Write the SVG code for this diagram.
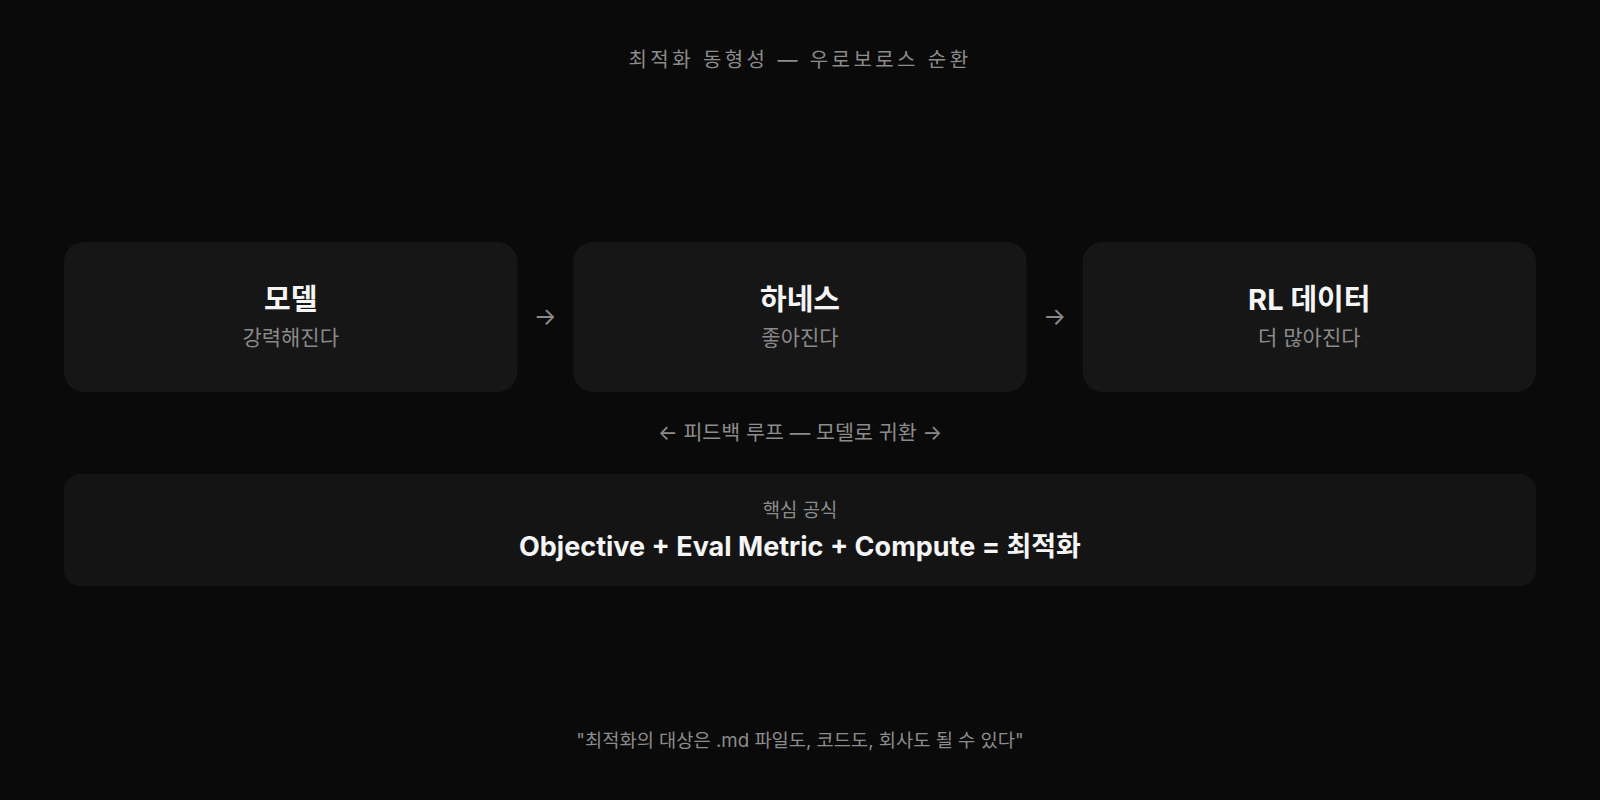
<svg xmlns="http://www.w3.org/2000/svg" width="1600" height="800" viewBox="0 0 1600 800">
  <style>
    text { font-family: "Inter", "Noto Sans CJK KR", sans-serif; }
    .card { fill: #161616; }
    .title { font-size: 29px; font-weight: 700; fill: #f5f5f5; text-anchor: middle; }
    .sub { font-size: 21px; font-weight: 400; fill: #8a8a8a; text-anchor: middle; }
    .arrow { font-size: 24px; fill: #8a8a8a; text-anchor: middle; }
    .gray { fill: #8c8c8c; text-anchor: middle; }
  </style>
  <rect width="1600" height="800" fill="#0a0a0a"/>

  <text x="800" y="67" class="gray" font-size="20" letter-spacing="3.4" fill="#9a9a9a">최적화 동형성 — 우로보로스 순환</text>

  <g id="node-model">
    <rect class="card" x="64" y="242" width="453.3" height="150" rx="20"/>
    <text class="title" x="290.7" y="310">모델</text>
    <text class="sub" x="290.7" y="345">강력해진다</text>
  </g>
  <g id="node-harness">
    <rect class="card" x="573.3" y="242" width="453.3" height="150" rx="20"/>
    <text class="title" x="800" y="310">하네스</text>
    <text class="sub" x="800" y="345">좋아진다</text>
  </g>
  <g id="node-rl-data">
    <rect class="card" x="1082.7" y="242" width="453.3" height="150" rx="20"/>
    <text class="title" x="1309.3" y="310">RL 데이터</text>
    <text class="sub" x="1309.3" y="345">더 많아진다</text>
  </g>

  <g id="connectors">
    <text class="arrow" x="545.3" y="325">→</text>
    <text class="arrow" x="1054.7" y="325">→</text>
  </g>

  <text x="800" y="440" class="gray" font-size="20.6">← 피드백 루프 — 모델로 귀환 →</text>

  <g id="node-formula">
    <rect x="64" y="474" width="1472" height="112" rx="16" fill="#141414"/>
    <text x="800" y="517" class="gray" font-size="18.8">핵심 공식</text>
    <text x="800" y="555.5" font-size="27" font-weight="700" fill="#f5f5f5" text-anchor="middle">Objective + Eval Metric + Compute = 최적화</text>
  </g>

  <text x="800" y="747" class="gray" font-size="18.7">"최적화의 대상은 .md 파일도, 코드도, 회사도 될 수 있다"</text>
</svg>
